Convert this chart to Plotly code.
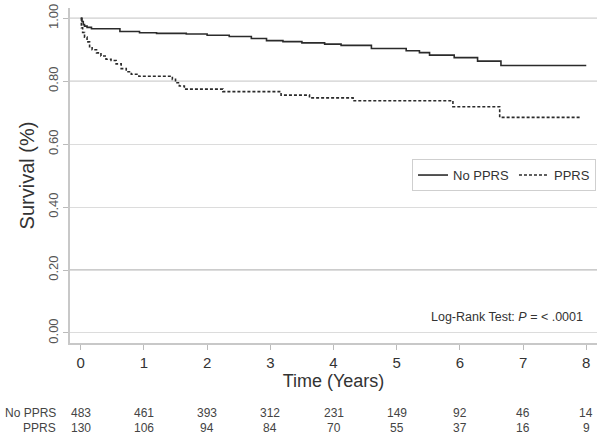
import plotly.graph_objects as go

# Kaplan-Meier step points (time in years, survival)
no_pprs_t = [0, 0.02, 0.04, 0.06, 0.1, 0.17, 0.62, 0.93, 1.2, 1.67, 2.0, 2.35, 2.7,
             2.94, 3.2, 3.5, 3.86, 4.12, 4.6, 5.15, 5.36, 5.52, 5.91, 6.28, 6.65, 8.0]
no_pprs_s = [1.0, 0.99, 0.98, 0.975, 0.971, 0.967, 0.958, 0.954, 0.952, 0.95, 0.946, 0.942, 0.936,
             0.929, 0.926, 0.922, 0.918, 0.914, 0.904, 0.897, 0.891, 0.883, 0.875, 0.864, 0.85, 0.85]

pprs_t = [0, 0.01, 0.03, 0.06, 0.1, 0.14, 0.18, 0.25, 0.32, 0.4, 0.48, 0.56, 0.64, 0.72,
          0.8, 0.92, 1.45, 1.5, 1.56, 1.64, 2.25, 3.17, 3.62, 4.31, 5.89, 6.63, 7.92]
pprs_s = [1.0, 0.97, 0.955, 0.94, 0.925, 0.91, 0.9, 0.89, 0.88, 0.87, 0.866, 0.855, 0.84, 0.83,
          0.822, 0.816, 0.806, 0.795, 0.785, 0.775, 0.767, 0.756, 0.747, 0.738, 0.719, 0.685, 0.685]

# numbers at risk
risk_years = [0, 1, 2, 3, 4, 5, 6, 7, 8]
risk_no_pprs = [483, 461, 393, 312, 231, 149, 92, 46, 14]
risk_pprs = [130, 106, 94, 84, 70, 55, 37, 16, 9]

y_ticks = [0.0, 0.2, 0.4, 0.6, 0.8, 1.0]
dark_grid = [0.2, 0.8, 1.0]

FONT = 'Arial, Liberation Sans, sans-serif'

fig = go.Figure()
fig.add_trace(go.Scatter(
    x=no_pprs_t, y=no_pprs_s, mode='lines', line_shape='hv', name='No PPRS',
    line=dict(color='#2b2b2b', width=1.6),
))
fig.add_trace(go.Scatter(
    x=pprs_t, y=pprs_s, mode='lines', line_shape='hv', name='PPRS',
    line=dict(color='#2b2b2b', width=1.6, dash='3px,2px'),
))

# darker reference lines
for v in dark_grid:
    fig.add_shape(type='line', xref='paper', x0=0, x1=1, yref='y', y0=v, y1=v,
                  line=dict(color='#9a9a9a', width=1.2), layer='below')

# number-at-risk table
rows = [('No PPRS', risk_no_pprs, -0.209), ('PPRS', risk_pprs, -0.254)]
for label, vals, yy in rows:
    fig.add_annotation(text=label, xref='paper', x=-0.022, xanchor='right',
                       yref='paper', y=yy, yanchor='middle', showarrow=False,
                       font=dict(size=12, color='#444'))
    for yr, n in zip(risk_years, vals):
        fig.add_annotation(text=str(n), xref='x', x=yr, xanchor='center',
                           yref='paper', y=yy, yanchor='middle', showarrow=False,
                           font=dict(size=12, color='#444'))

fig.add_annotation(text='Log-Rank Test: <i>P</i> = < .0001', xref='paper', x=0.977,
                   xanchor='right', yref='paper', y=0.078, yanchor='middle',
                   showarrow=False, font=dict(size=12.5, color='#333'))

fig.update_layout(
    width=600, height=436,
    margin=dict(l=70, r=3, t=8, b=93),
    plot_bgcolor='white', paper_bgcolor='white',
    font=dict(family=FONT, color='#333'),
    showlegend=True,
    legend=dict(orientation='h', x=0.649, y=0.549, xanchor='left', yanchor='top',
                bordercolor='#cfcfcf', borderwidth=1, bgcolor='white',
                font=dict(size=13, color='#333'), itemwidth=30,
                traceorder='normal'),
    xaxis=dict(
        range=[-0.17, 8.17], tickvals=risk_years, ticks='outside', ticklen=5,
        tickcolor='#bbb', showline=True, linecolor='#c8c8c8', linewidth=1.5,
        showgrid=False, zeroline=False, tickfont=dict(size=15, color='#333'),
        title=dict(text='Time (Years)', font=dict(size=18, color='#333'), standoff=4),
    ),
    yaxis=dict(
        range=[-0.0318, 1.0327], tickvals=y_ticks, tickformat='.2f', ticks='outside',
        ticklen=5, tickcolor='#bbb', showline=True, linecolor='#c8c8c8', linewidth=1.5,
        showgrid=True, gridcolor='#dcdcdc', gridwidth=1, zeroline=False,
        tickangle=-90, tickfont=dict(size=13, color='#555'),
        title=dict(text='Survival (%)', font=dict(size=20, color='#333'), standoff=6),
    ),
)

# the page body has a default 8px margin; drop it so the figure fills the window
fig.write_html('out.html', config={'displayModeBar': False},
               post_script="document.body.style.margin='0';")
